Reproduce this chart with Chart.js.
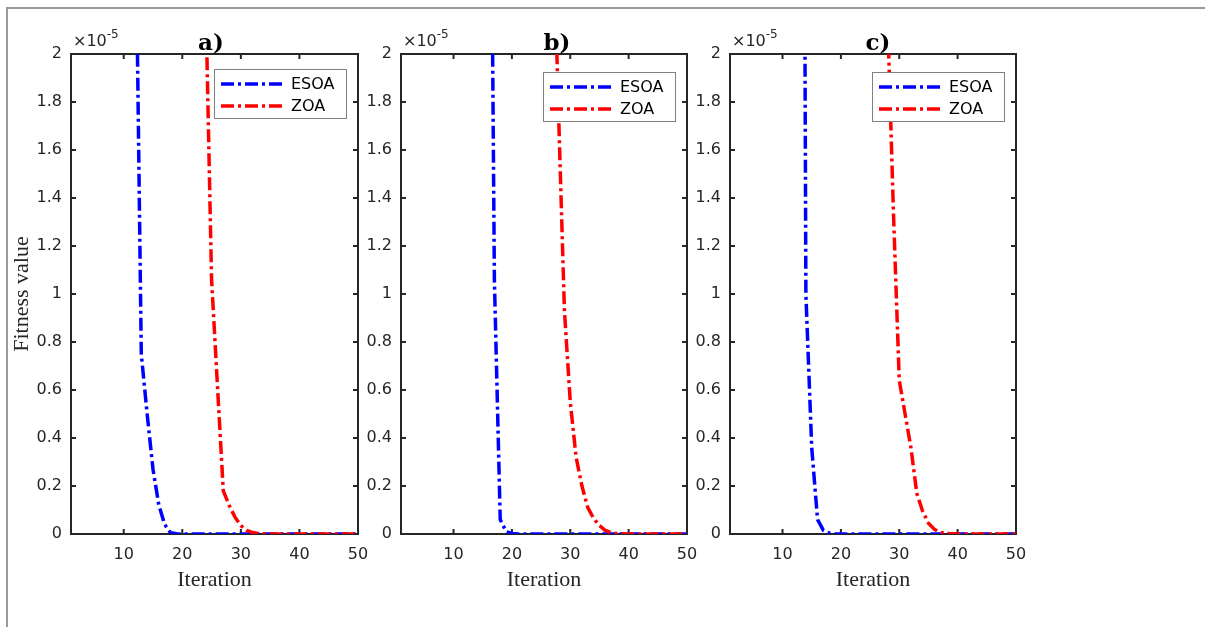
<!DOCTYPE html>
<html>
<head>
<meta charset="utf-8">
<script src="https://cdn.jsdelivr.net/npm/chart.js@4.4.0/dist/chart.umd.min.js"></script>
<style>
  html, body { margin: 0; width: 1205px; height: 627px; overflow: hidden; background: #fff; }
  #frame { position: absolute; left: 6px; top: 7px; width: 1400px; height: 800px;
           border-top: 2px solid #9a9a9a; border-left: 2px solid #9a9a9a; }
  canvas { position: absolute; top: 0; }
</style>
</head>
<body>
<div id="frame"></div>
<canvas id="chartA" width="385" height="627" style="left:0px"></canvas>
<canvas id="chartB" width="360" height="627" style="left:355px"></canvas>
<canvas id="chartC" width="370" height="627" style="left:685px"></canvas>
<script>
// iterations on the x axis
const iterations = [1, 2, 3, 4, 5, 6, 7, 8, 9, 10, 11, 12, 13, 14, 15, 16, 17, 18, 19, 20,
    21, 22, 23, 24, 25, 26, 27, 28, 29, 30, 31, 32, 33, 34, 35, 36, 37, 38, 39, 40,
    41, 42, 43, 44, 45, 46, 47, 48, 49, 50];
const xTicks = [10, 20, 30, 40, 50];
const yTicks = [0, 0.2, 0.4, 0.6, 0.8, 1, 1.2, 1.4, 1.6, 1.8, 2];
const seriesNames = ['ESOA', 'ZOA'];

// fitness values, in units of 1e-5
const esoaA = [95, 71, 52, 38, 27, 19, 13, 9.1, 6.4, 4.8, 3.6, 2.67, 0.75, 0.5, 0.27, 0.12, 0.04, 0.005, 0.001, 0,
    0, 0, 0, 0, 0, 0, 0, 0, 0, 0, 0, 0, 0, 0, 0, 0, 0, 0, 0, 0,
    0, 0, 0, 0, 0, 0, 0, 0, 0, 0];
const zoaA = [180, 150, 124, 102, 85, 70, 58, 48, 40, 33, 27, 22.5, 18.6, 15.4, 12.8, 10.6, 8.8, 7.3, 6.0, 4.9,
    4.0, 3.3, 2.7, 2.235, 1.06, 0.62, 0.18, 0.12, 0.07, 0.035, 0.015, 0.006, 0.002, 0.001, 0, 0, 0, 0, 0, 0,
    0, 0, 0, 0, 0, 0, 0, 0, 0, 0];
const esoaB = [120, 96, 77, 61, 49, 39, 31, 25, 20, 16, 12.8, 10.2, 8.1, 6.5, 5.2, 4.2, 1.06, 0.06, 0.01, 0.002,
    0.0005, 0, 0, 0, 0, 0, 0, 0, 0, 0, 0, 0, 0, 0, 0, 0, 0, 0, 0, 0,
    0, 0, 0, 0, 0, 0, 0, 0, 0, 0];
const zoaB = [210, 178, 150, 127, 107, 90, 76, 64, 54, 45.5, 38.4, 32.4, 27.3, 23, 19.4, 16.4, 13.8, 11.6, 9.8, 8.3,
    7, 5.9, 5, 4.2, 3.5, 3.0, 2.6, 1.75, 0.93, 0.55, 0.32, 0.2, 0.11, 0.065, 0.035, 0.015, 0.006, 0.002, 0.001, 0,
    0, 0, 0, 0, 0, 0, 0, 0, 0, 0];
const esoaC = [140, 108, 84, 65, 51, 40, 32, 26, 21, 17.5, 14.5, 11, 7.67, 1.0, 0.36, 0.06, 0.015, 0.004, 0.001, 0,
    0, 0, 0, 0, 0, 0, 0, 0, 0, 0, 0, 0, 0, 0, 0, 0, 0, 0, 0, 0,
    0, 0, 0, 0, 0, 0, 0, 0, 0, 0];
const zoaC = [230, 195, 165, 140, 118, 100, 85, 72, 61, 52, 44, 37, 31.5, 26.7, 22.6, 19.2, 16.3, 13.8, 11.7, 9.9,
    8.4, 7.1, 6, 5.1, 4.3, 3.7, 3.1, 2.16, 1.34, 0.64, 0.5, 0.36, 0.17, 0.095, 0.045, 0.02, 0.007, 0.002, 0.001, 0,
    0, 0, 0, 0, 0, 0, 0, 0, 0, 0];

// layout of the three panels
const panels = [
    { id: 'chartA', label: 'a)', esoa: esoaA, zoa: zoaA, canvasLeft: 0, canvasWidth: 385,
      left: 71, right: 358, labelX: 140, legendTop: 15, yTitle: true },
    { id: 'chartB', label: 'b)', esoa: esoaB, zoa: zoaB, canvasLeft: 355, canvasWidth: 360,
      left: 401, right: 687, labelX: 156, legendTop: 18, yTitle: false },
    { id: 'chartC', label: 'c)', esoa: esoaC, zoa: zoaC, canvasLeft: 685, canvasWidth: 370,
      left: 730, right: 1016, labelX: 148, legendTop: 18, yTitle: false }
];
const plotTop = 54, plotBottom = 534, xAxisHeight = 59;
const dash = [13, 4, 3, 4];
const textColor = '#262626';

Chart.defaults.font.family = 'DejaVu Sans';
Chart.defaults.font.size = 16;
Chart.defaults.color = textColor;

// box, inward ticks, legend, exponent and panel label, drawn MATLAB style
const matlabAxes = {
    id: 'matlabAxes',
    beforeDatasetsDraw(chart) {
        const { ctx, chartArea: a, scales: { x, y } } = chart;
        ctx.save();
        ctx.strokeStyle = textColor;
        ctx.lineWidth = 2;
        ctx.strokeRect(a.left, a.top, a.width, a.height);
        ctx.beginPath();
        xTicks.forEach(v => {
            const px = x.getPixelForValue(v);
            ctx.moveTo(px, a.bottom); ctx.lineTo(px, a.bottom - 5);
            ctx.moveTo(px, a.top); ctx.lineTo(px, a.top + 5);
        });
        yTicks.forEach(v => {
            const py = y.getPixelForValue(v);
            ctx.moveTo(a.left, py); ctx.lineTo(a.left + 5, py);
            ctx.moveTo(a.right, py); ctx.lineTo(a.right - 5, py);
        });
        ctx.stroke();
        ctx.restore();
    },
    afterDatasetsDraw(chart, args, opts) {
        const { ctx, chartArea: a } = chart;
        const w = 132, h = 49;
        const bx = a.right - 12 - w, by = a.top + opts.legendTop;
        ctx.save();
        ctx.fillStyle = '#fff';
        ctx.fillRect(bx, by, w, h);
        ctx.strokeStyle = '#808080';
        ctx.lineWidth = 1;
        ctx.strokeRect(bx + 0.5, by + 0.5, w, h);
        chart.data.datasets.forEach((ds, i) => {
            const ly = by + 15 + i * 22;
            ctx.strokeStyle = ds.borderColor;
            ctx.lineWidth = ds.borderWidth;
            ctx.setLineDash(ds.borderDash);
            ctx.beginPath();
            ctx.moveTo(bx + 7, ly);
            ctx.lineTo(bx + 71, ly);
            ctx.stroke();
            ctx.setLineDash([]);
            ctx.fillStyle = '#000';
            ctx.font = '16px "DejaVu Sans"';
            ctx.textBaseline = 'middle';
            ctx.fillText(ds.label, bx + 77, ly + 1);
        });
        ctx.restore();
    },
    afterDraw(chart, args, opts) {
        const { ctx, chartArea: a } = chart;
        ctx.save();
        ctx.fillStyle = textColor;
        ctx.textBaseline = 'alphabetic';
        ctx.font = '16px "DejaVu Sans"';
        ctx.fillText('\u00d710', a.left + 2, 46);
        const w = ctx.measureText('\u00d710').width;
        ctx.font = '12px "DejaVu Sans"';
        ctx.fillText('-5', a.left + 2 + w, 38);
        ctx.fillStyle = '#000';
        ctx.font = 'bold 23px "DejaVu Serif"';
        ctx.textAlign = 'center';
        ctx.fillText(opts.label, a.left + opts.labelX, 50);
        ctx.restore();
    }
};

panels.forEach(p => {
    const ctx = document.getElementById(p.id).getContext('2d');
    new Chart(ctx, {
        type: 'line',
        data: {
            datasets: [
                {
                    label: seriesNames[0],
                    data: iterations.map((it, i) => ({ x: it, y: p.esoa[i] })),
                    borderColor: '#0000ff',
                    borderWidth: 3.5,
                    borderDash: dash,
                    pointRadius: 0,
                    tension: 0,
                    order: 1
                },
                {
                    label: seriesNames[1],
                    data: iterations.map((it, i) => ({ x: it, y: p.zoa[i] })),
                    borderColor: '#ff0000',
                    borderWidth: 3.5,
                    borderDash: dash,
                    pointRadius: 0,
                    tension: 0,
                    order: 0
                }
            ]
        },
        options: {
            responsive: false,
            animation: false,
            layout: {
                padding: {
                    left: 0,
                    top: plotTop,
                    right: p.canvasWidth - (p.right - p.canvasLeft),
                    bottom: 627 - plotBottom - xAxisHeight
                }
            },
            plugins: {
                legend: { display: false },
                tooltip: { enabled: false },
                matlabAxes: { label: p.label, labelX: p.labelX, legendTop: p.legendTop }
            },
            scales: {
                x: {
                    type: 'linear',
                    min: 1,
                    max: 50,
                    grid: { display: false, drawTicks: false },
                    border: { display: false },
                    afterBuildTicks: s => { s.ticks = xTicks.map(v => ({ value: v })); },
                    ticks: { padding: 11, maxRotation: 0, autoSkip: false },
                    title: {
                        display: true,
                        text: 'Iteration',
                        font: { family: 'Liberation Serif', size: 22 },
                        padding: 0
                    },
                    afterFit: s => { s.height = xAxisHeight; }
                },
                y: {
                    min: 0,
                    max: 2,
                    grid: { display: false, drawTicks: false },
                    border: { display: false },
                    afterBuildTicks: s => { s.ticks = yTicks.map(v => ({ value: v })); },
                    ticks: { padding: 9, autoSkip: false, callback: v => String(+v.toFixed(1)) },
                    title: {
                        display: p.yTitle,
                        text: 'Fitness value',
                        font: { family: 'Liberation Serif', size: 22 },
                        padding: { top: 9, bottom: 0 }
                    },
                    afterFit: s => { s.width = p.left - p.canvasLeft; }
                }
            }
        },
        plugins: [matlabAxes]
    });
});
</script>
</body>
</html>
